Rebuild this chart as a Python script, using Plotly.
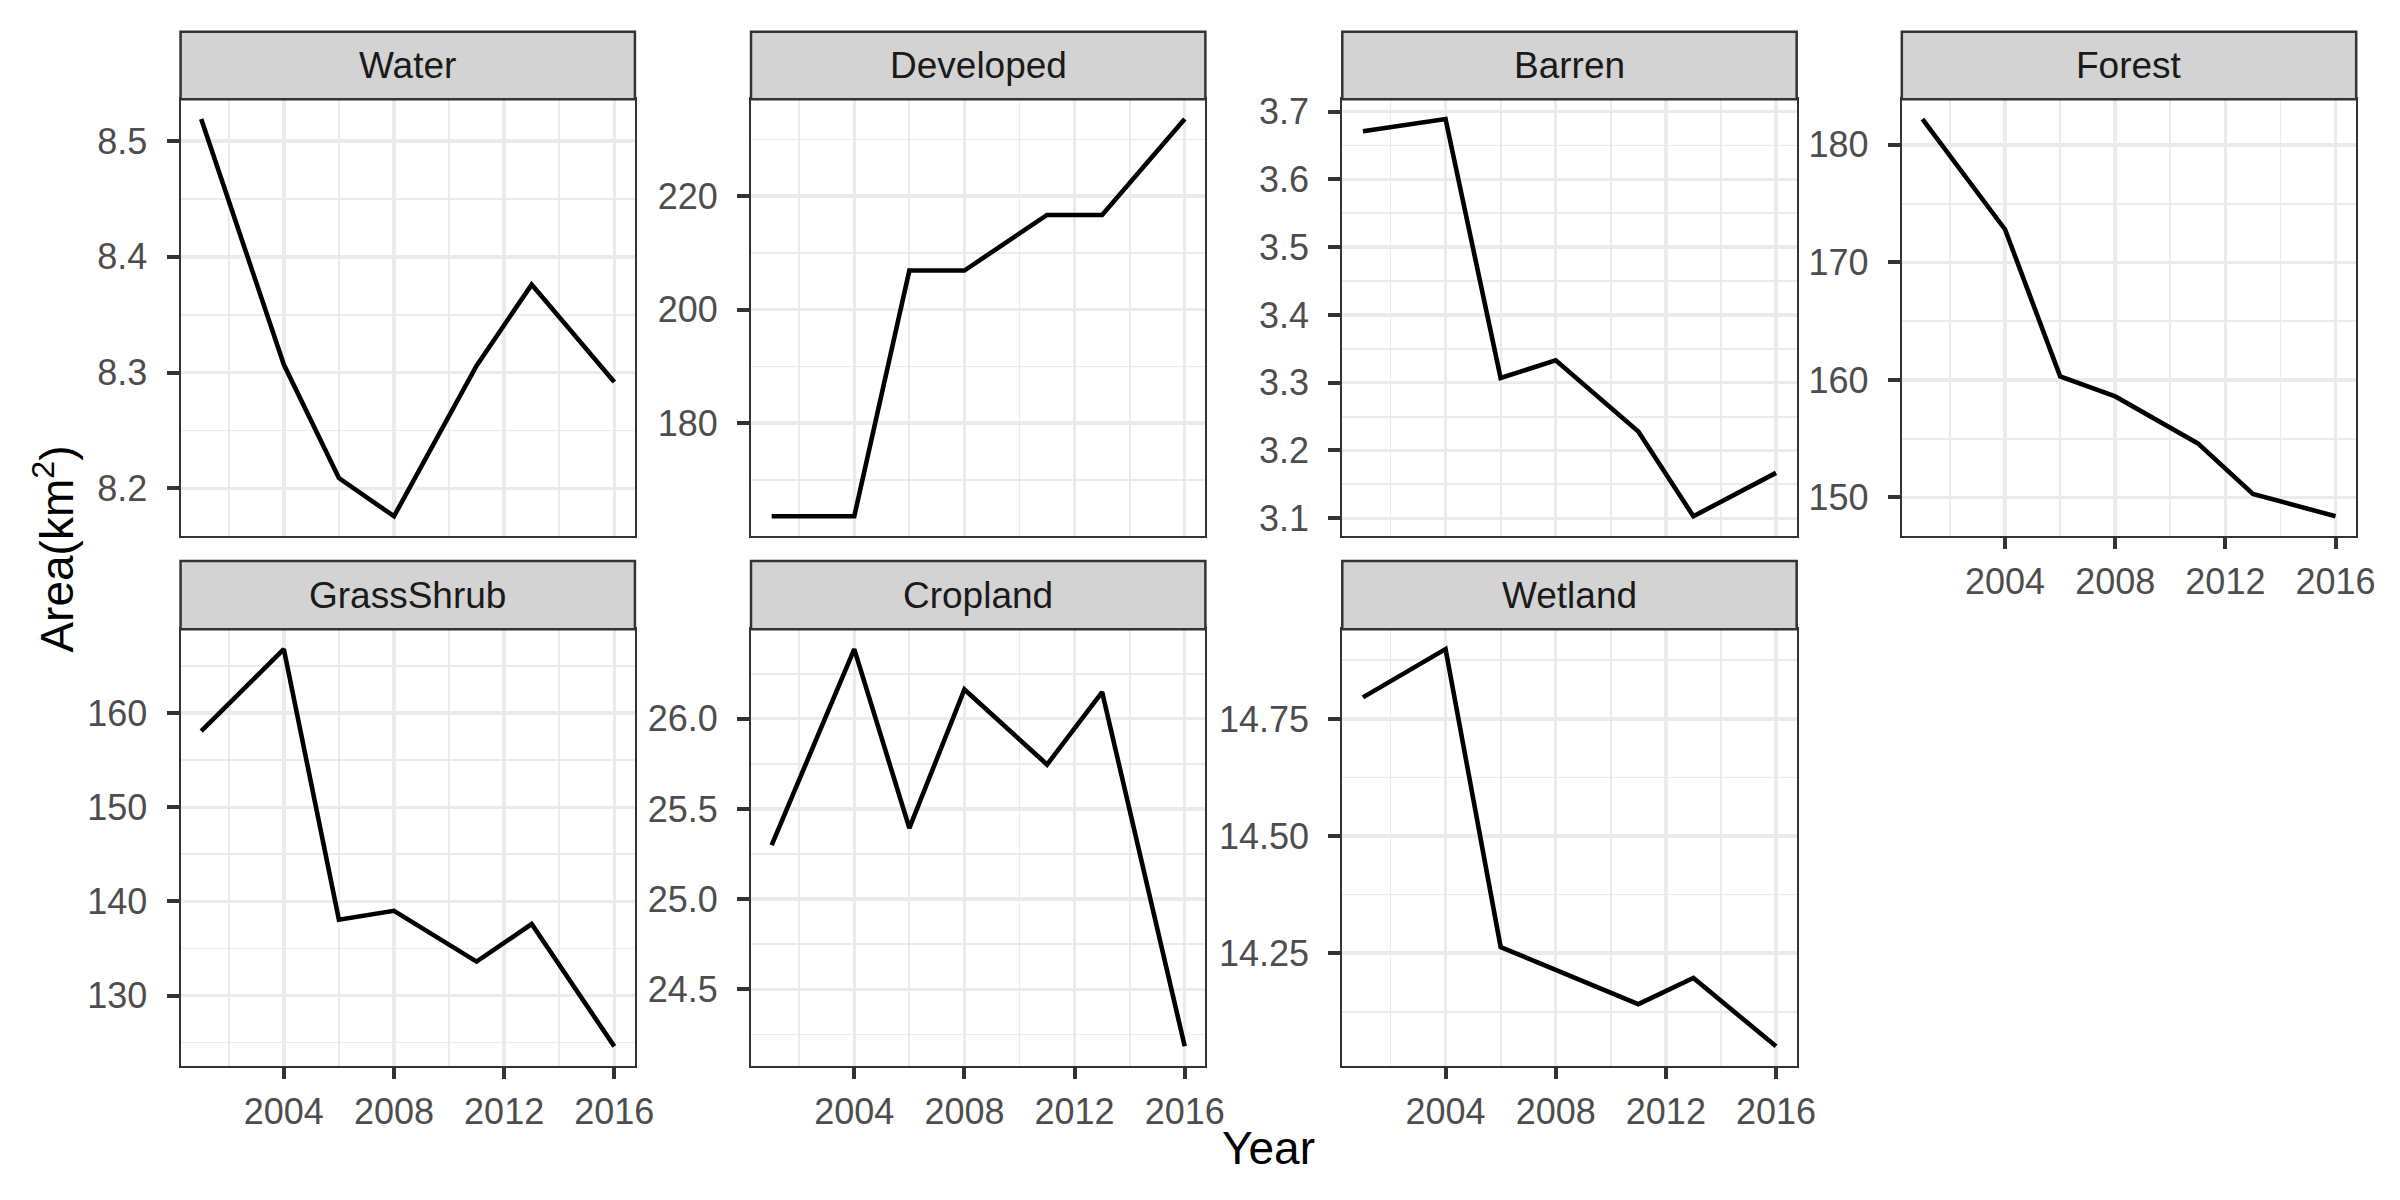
import numpy as np
import plotly.graph_objects as go

# ---------------- data ----------------
years = [2001, 2004, 2006, 2008, 2011, 2013, 2016]
categories = ["Water", "Developed", "Barren", "Forest", "GrassShrub", "Cropland", "Wetland"]
water = [8.519, 8.307, 8.209, 8.176, 8.306, 8.376, 8.292]
developed = [163.6, 163.6, 206.9, 206.9, 216.7, 216.7, 233.6]
barren = [3.671, 3.689, 3.307, 3.333, 3.228, 3.103, 3.167]
forest = [182.2, 172.8, 160.3, 158.6, 154.6, 150.3, 148.4]
grassshrub = [158.1, 166.8, 138.05, 139.0, 133.6, 137.6, 124.6]
cropland = [25.30, 26.386, 25.394, 26.162, 25.746, 26.148, 24.184]
wetland = [14.796, 14.899, 14.263, 14.215, 14.141, 14.197, 14.051]
x_ticks = [2004, 2008, 2012, 2016]
x_minor = [2002, 2006, 2010, 2014]

series = [water, developed, barren, forest, grassshrub, cropland, wetland]

# ---------------- styling / layout ----------------
W, H = 2400, 1200
FONT = "Liberation Sans, Arial, Helvetica, sans-serif"
col_px = [(182, 640), (757, 1215), (1353, 1811), (1917, 2375)]
rows_px = [((24, 92), (92, 533)), ((558, 627), (627, 1068))]  # (strip, panel)
y_dtick = [0.1, 20, 0.1, 10, 10, 0.5, 0.25]
y_fmt = [".1f", "d", ".1f", "d", "d", ".1f", ".2f"]
show_x_labels = [False, False, False, True, True, True, True]

GRID = "#EBEBEB"
DARK = "#333333"
N = len(categories)

fig = go.Figure()
layout = dict(
    width=W, height=H,
    margin=dict(l=0, r=0, t=0, b=0, pad=0),
    paper_bgcolor="white", plot_bgcolor="white",
    showlegend=False,
    font=dict(family=FONT, size=36, color="#4D4D4D"),
)
shapes = []
annotations = []

span = max(years) - min(years)
xr = [min(years) - 0.05 * span, max(years) + 0.05 * span]

for i, (name, vals) in enumerate(zip(categories, series)):
    r, c = divmod(i, 4)
    (sx0, sx1) = col_px[c]
    (st0, st1), (py0, py1) = rows_px[r]
    sfx = "" if i == 0 else str(i + 1)
    msfx = str(i + 1 + N)  # overlay axes carrying the minor grid
    lo, hi = min(vals), max(vals)
    pad = 0.05 * (hi - lo)
    yr = [lo - pad, hi + pad]
    xd = [sx0 / W, sx1 / W]
    yd = [1 - py1 / H, 1 - py0 / H]

    # invisible trace on overlay axes (minor grid only)
    fig.add_trace(go.Scatter(
        x=years, y=vals, mode="lines",
        line=dict(color="rgba(0,0,0,0)", width=1),
        xaxis="x" + msfx, yaxis="y" + msfx, hoverinfo="skip",
    ))
    layout["xaxis" + msfx] = dict(
        overlaying="x" + sfx, anchor="y" + msfx, range=xr,
        tickmode="array", tickvals=x_minor, showticklabels=False, ticks="",
        showgrid=True, gridcolor=GRID, gridwidth=1.8,
        showline=False, zeroline=False, fixedrange=True,
    )
    layout["yaxis" + msfx] = dict(
        overlaying="y" + sfx, anchor="x" + msfx, range=yr,
        tick0=y_dtick[i] / 2, dtick=y_dtick[i], showticklabels=False, ticks="",
        showgrid=True, gridcolor=GRID, gridwidth=1.8,
        showline=False, zeroline=False, fixedrange=True,
    )

    fig.add_trace(go.Scatter(
        x=years, y=vals, mode="lines",
        line=dict(color="black", width=4.6),
        xaxis="x" + sfx, yaxis="y" + sfx, hoverinfo="skip",
    ))
    layout["xaxis" + sfx] = dict(
        domain=xd, anchor="y" + sfx, range=xr,
        tickmode="array", tickvals=x_ticks,
        showticklabels=show_x_labels[i],
        ticks="outside" if show_x_labels[i] else "",
        ticklen=11, tickwidth=4, tickcolor=DARK,
        ticklabelstandoff=2,
        tickfont=dict(size=36, color="#4D4D4D", family=FONT),
        showgrid=True, gridcolor=GRID, gridwidth=3.5,
        showline=True, mirror=True, linecolor=DARK, linewidth=2,
        zeroline=False, fixedrange=True,
    )
    layout["yaxis" + sfx] = dict(
        domain=yd, anchor="x" + sfx, range=yr,
        tick0=0, dtick=y_dtick[i], tickformat=y_fmt[i],
        ticks="outside", ticklen=12, tickwidth=4, tickcolor=DARK,
        ticklabelstandoff=12,
        tickfont=dict(size=36, color="#4D4D4D", family=FONT),
        showgrid=True, gridcolor=GRID, gridwidth=3.5,
        showline=True, mirror=True, linecolor=DARK, linewidth=2,
        zeroline=False, fixedrange=True,
    )

    # strip
    shapes.append(dict(
        type="rect", xref="paper", yref="paper",
        x0=sx0 / W, x1=sx1 / W, y0=1 - st1 / H, y1=1 - st0 / H,
        fillcolor="#D3D3D3", line=dict(color=DARK, width=2.5), layer="above",
    ))
    annotations.append(dict(
        text=name, xref="paper", yref="paper",
        x=(sx0 + sx1) / 2 / W, y=1 - (st0 + st1) / 2 / H,
        xanchor="center", yanchor="middle", showarrow=False,
        font=dict(size=37, color="#1A1A1A", family=FONT),
    ))

annotations.append(dict(
    text="Year", xref="paper", yref="paper",
    x=(182 + 2375) / 2 / W, y=1 - 1151 / H,
    xanchor="center", yanchor="middle", showarrow=False,
    font=dict(size=46, color="black", family=FONT),
))
annotations.append(dict(
    text="Area(km<sup>2</sup>)", xref="paper", yref="paper",
    x=54 / W, y=1 - 546 / H, textangle=-90,
    xanchor="center", yanchor="middle", showarrow=False,
    font=dict(size=46, color="black", family=FONT),
))

layout["shapes"] = shapes
layout["annotations"] = annotations
fig.update_layout(**layout)
fig.write_html("out.html", config={"staticPlot": True, "displayModeBar": False})
